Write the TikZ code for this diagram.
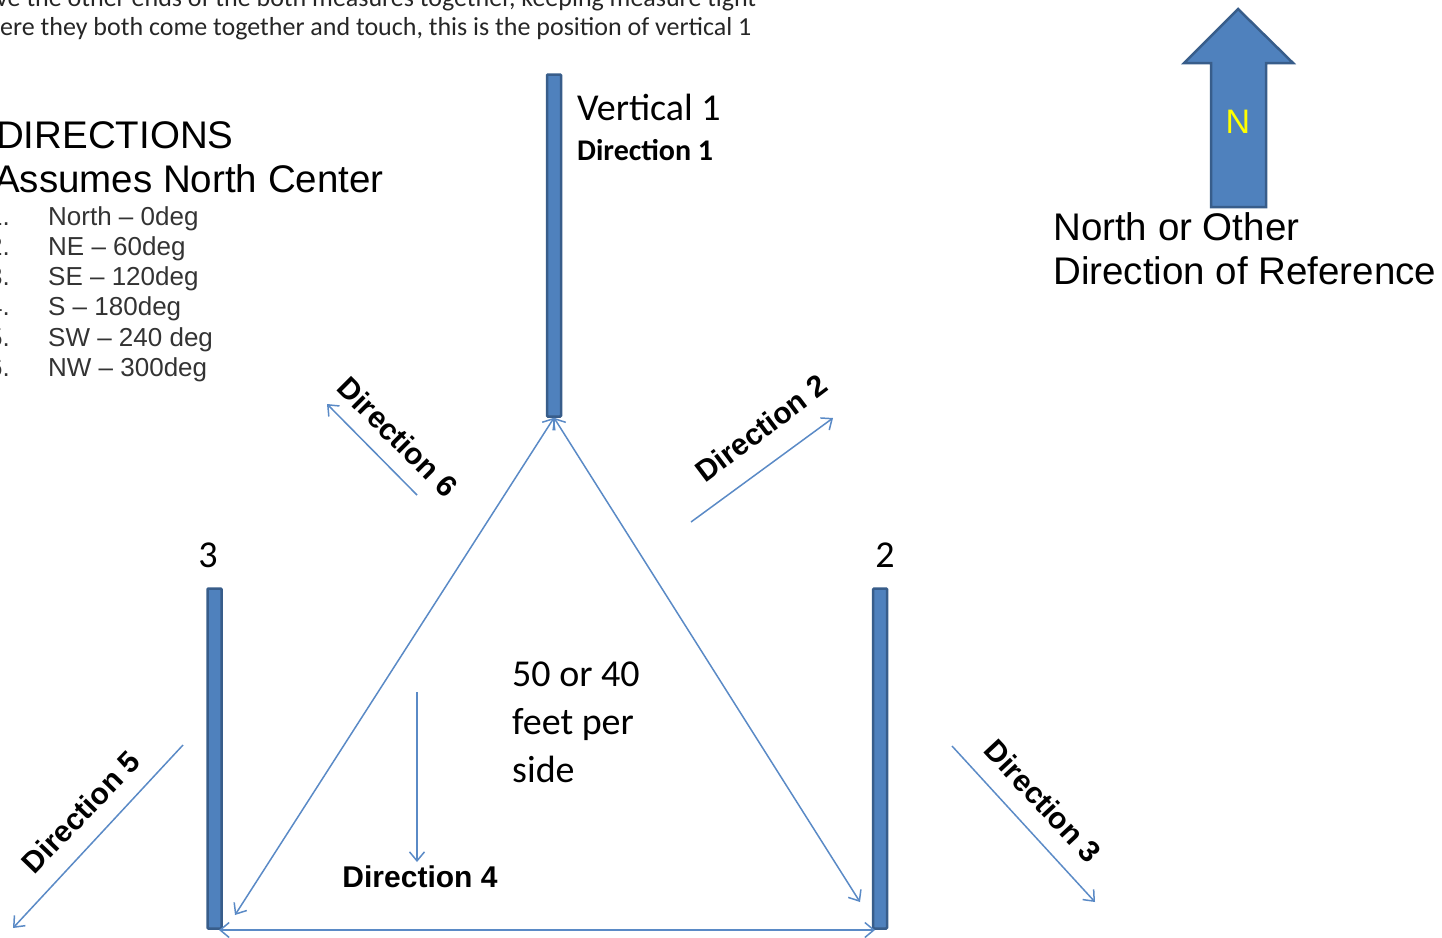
\documentclass[tikz,border=0pt]{standalone}
\usepackage{fontspec}
\setmainfont{Carlito}
\newfontfamily\arialfont{Liberation Sans}
\usetikzlibrary{arrows.meta,positioning}
\definecolor{barblue}{HTML}{4F81BD}
\definecolor{baredge}{HTML}{385D8A}
\definecolor{lineblue}{HTML}{5A8AC6}
\definecolor{nyellow}{HTML}{FFFF00}
\newcommand{\fsz}[2]{\fontsize{#1}{#2}\selectfont}
\tikzset{
  bar/.style={draw=baredge, fill=barblue, line width=2.5pt, rounded corners=1pt,
    minimum width=14pt, inner sep=0pt},
  dirline/.style={draw=lineblue, line width=1.5pt,
    -{Straight Barb[length=9pt,width=15pt,line width=1.5pt]}},
  sideline/.style={dirline, {Straight Barb[length=9pt,width=15pt,line width=1.5pt]}-{Straight Barb[length=9pt,width=15pt,line width=1.5pt]}},
  dirlabel/.style={font=\arialfont\bfseries\fsz{30}{35}, inner sep=0pt},
  listitem/.style={font=\arialfont\fsz{26}{31}, inner sep=0pt, text=black!80, anchor=base west},
  listnum/.style={font=\arialfont\fsz{26}{31}, inner sep=0pt, text=black!80, anchor=base east},
  head/.style={font=\arialfont\fsz{38.5}{45}, inner sep=0pt, anchor=base west},
  calib/.style={font=\fsz{38}{48}, inner sep=0pt},
}
\begin{document}
\begin{tikzpicture}[x=1pt, y=-1pt]
  \useasboundingbox (0,0) rectangle (1442,937);
  \clip (0,0) rectangle (1442,937);

  % text at the top, cut off
  \node[font=\fsz{26}{31}, inner sep=0pt, anchor=base west, text=black!85] (top1) at (-4,6)
    {ve the other ends of the both measures together, keeping measure tight};
  \node[font=\fsz{26}{31}, inner sep=0pt, anchor=base west, text=black!85] (top2) at (0,35)
    {ere they both come together and touch, this is the position of vertical 1};

  % list of directions
  \node[head] (dirs) at (-4,148) {DIRECTIONS};
  \node[head] (assum) at (-6,192) {Assumes North Center};
  \foreach \n/\txt [count=\i] in {1/North – 0deg, 2/NE – 60deg, 3/SE – 120deg,
      4/S – 180deg, 5/SW – 240 deg, 6/NW – 300deg} {
    \node[listnum] (num\i) at (10,{195+30.2*\i}) {\n.};
    \node[listitem] (item\i) at (48,{195+30.2*\i}) {\txt};
  }

  % north arrow
  \draw[draw=baredge, fill=barblue, line width=2.5pt]
    (1211,207) -- (1211,63) -- (1184,63) -- (1238,9) -- (1293,63)
    -- (1266,63) -- (1266,207) -- cycle;
  \node[font=\arialfont\fsz{34}{40}, text=nyellow, inner sep=0pt] (nlab) at (1238,122) {N};
  \node[head] (ref1) at (1053,240) {North or Other};
  \node[head] (ref2) at (1053,284) {Direction of Reference};

  % verticals
  \node[bar, minimum height=342pt] (v1) at (554,245.5) {};
  \node[bar, minimum height=340pt] (v3) at (214.5,758.5) {};
  \node[bar, minimum height=340pt] (v2) at (880,758.5) {};
  \node[calib, anchor=base west] (v1lab) at (577,120) {Vertical 1};
  \node[font=\bfseries\fsz{30}{35}, inner sep=0pt, anchor=base west] (d1lab) at (577,160) {Direction 1};
  \node[calib] (v3lab) at (208,555) {3};
  \node[calib] (v2lab) at (885,555) {2};

  % triangle
  \coordinate (cl) at (235,915);
  \coordinate (cr) at (860,902);
  \coordinate (bl) at (219,930);
  \coordinate (br) at (875,930);
  \draw[sideline] (cl) -- (v1.south);
  \draw[sideline] (cr) -- (v1.south);
  \draw[sideline] (bl) -- (br);
  \node[calib, align=left, anchor=base west] (side) at (512,782)
    {50 or 40\\feet per\\side};

  % direction arrows
  \coordinate (d6s) at (417,495); \coordinate (d6e) at (327,404);
  \coordinate (d2s) at (691,522); \coordinate (d2e) at (833,418);
  \coordinate (d5s) at (183,745); \coordinate (d5e) at (13,928);
  \coordinate (d3s) at (952,746); \coordinate (d3e) at (1095,902);
  \coordinate (d4s) at (417,692); \coordinate (d4e) at (417,862);
  \foreach \k in {6,2,5,3,4} \draw[dirline] (d\k s) -- (d\k e);
  \node[dirlabel, rotate=-45] (d6lab) at (398,437) {Direction 6};
  \node[dirlabel, rotate=37] (d2lab) at (761,428) {Direction 2};
  \node[dirlabel, rotate=46] (d5lab) at (81,812) {Direction 5};
  \node[dirlabel, rotate=-47] (d3lab) at (1043,801) {Direction 3};
  \node[dirlabel] (d4lab) at (420,877) {Direction 4};
\end{tikzpicture}
\end{document}
